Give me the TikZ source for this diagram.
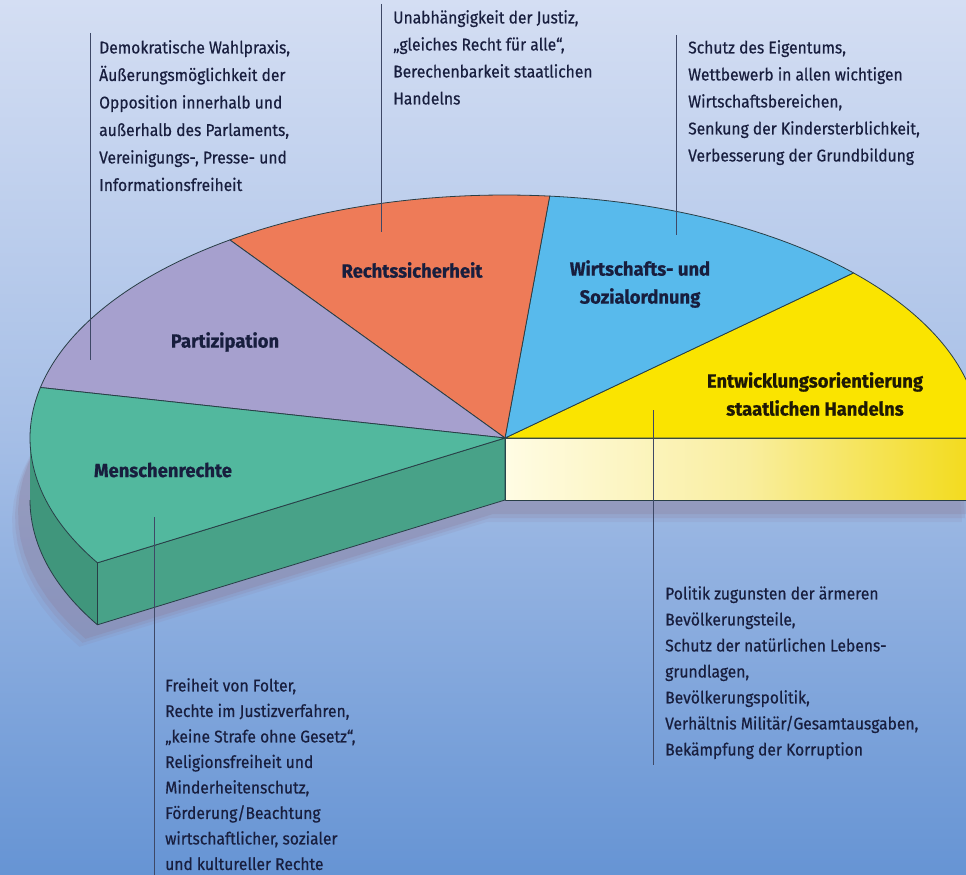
\documentclass[tikz,border=0pt]{standalone}
\usepackage{fontspec}
\setmainfont{Fira Sans}[FakeStretch=0.82]
\newfontfamily\descfont{Fira Sans}[FakeStretch=0.92, FakeBold=0.5]
\newfontfamily\labelfont{Fira Sans}[FakeStretch=0.97, BoldFeatures={FakeBold=0.7}]
\usetikzlibrary{calc}
\definecolor{bgtop}{RGB}{212,222,243}
\definecolor{bgmid}{RGB}{165,190,230}
\definecolor{bgbot}{RGB}{102,148,212}
\definecolor{cpurple}{RGB}{166,160,206}
\definecolor{corange}{RGB}{238,123,88}
\definecolor{cblue}{RGB}{88,186,236}
\definecolor{cyellow}{RGB}{250,228,0}
\definecolor{cgreen}{RGB}{82,184,158}
\definecolor{cgreenfront}{RGB}{72,162,136}
\definecolor{cgreenside}{RGB}{64,150,124}
\definecolor{cpale}{RGB}{255,252,228}
\definecolor{cpalemid}{RGB}{249,238,160}
\definecolor{cpaleend}{RGB}{242,218,20}
\definecolor{cshadow}{RGB}{140,122,150}
\definecolor{cedge}{RGB}{40,62,70}
\definecolor{ctext}{RGB}{24,30,62}
\definecolor{cleader}{RGB}{62,72,102}
\tikzset{
  edge/.style={draw=cedge, line width=0.8pt, line join=round},
  leader/.style={draw=cleader, line width=0.9pt},
  desc/.style={anchor=north west, align=left, inner sep=0pt, text=ctext},
  seglabel/.style={align=center, inner sep=0pt, text=ctext,
    font=\labelfont\fontsize{19}{28}\selectfont\bfseries},
}
\begin{document}
\begin{tikzpicture}[x=1pt,y=-1pt]
\useasboundingbox (0,0) rectangle (966,875);
\clip (0,0) rectangle (966,875);
\shade[top color=bgtop, bottom color=bgbot, middle color=bgmid] (0,0) rectangle (966,875);

% key points of the top ellipse (centre 505,438; radii 475, 243)
\coordinate (C) at (505,438);
\coordinate (Cb) at (505,500);
\coordinate (P5) at ({505+475*cos(210.9)},{438-243*sin(210.9)});
\coordinate (P5b) at ({505+475*cos(210.9)},{500-243*sin(210.9)});
\coordinate (R) at (985,438);
\coordinate (Rb) at (985,500);

% shadow
\foreach \dx/\dy/\op in {-18/22/0.12,-15/18/0.18,-12/14/0.25}{
  \fill[cshadow, opacity=\op] ({505+\dx},{500+\dy}) -- plot[domain=0:210.9, samples=60]
     ({505+\dx+475*cos(\x)},{500+\dy-243*sin(\x)}) -- cycle;
}

% front faces
\shade[left color=cpale, right color=cpaleend, middle color=cpalemid, edge] (C) rectangle (Rb);
\fill[cgreenside] plot[domain=180:210.9, samples=30] ({505+475*cos(\x)},{438-243*sin(\x)})
   -- plot[domain=210.9:180, samples=30] ({505+475*cos(\x)},{500-243*sin(\x)}) -- cycle;
\draw[edge] plot[domain=180:210.9, samples=30] ({505+475*cos(\x)},{500-243*sin(\x)});
\filldraw[fill=cgreenfront, edge] (C) -- (P5) -- (P5b) -- (Cb) -- cycle;

% top slices
\filldraw[fill=cyellow, edge] (C) -- plot[domain=0:42.8, samples=40] ({505+475*cos(\x)},{438-243*sin(\x)}) -- cycle;
\filldraw[fill=cblue, edge] (C) -- plot[domain=42.8:84.6, samples=40] ({505+475*cos(\x)},{438-243*sin(\x)}) -- cycle;
\filldraw[fill=corange, edge] (C) -- plot[domain=84.6:125.4, samples=40] ({505+475*cos(\x)},{438-243*sin(\x)}) -- cycle;
\filldraw[fill=cpurple, edge] (C) -- plot[domain=125.4:168, samples=40] ({505+475*cos(\x)},{438-243*sin(\x)}) -- cycle;
\filldraw[fill=cgreen, edge] (C) -- plot[domain=168:210.9, samples=40] ({505+475*cos(\x)},{438-243*sin(\x)}) -- cycle;

% segment labels
\node[seglabel] (lpart) at (225,342) {Partizipation};
\node[seglabel] (lrecht) at (412,270) {Rechtssicherheit};
\node[seglabel] (lmensch) at (163,470) {Menschenrechte};
\node[seglabel] (lwirt) at (640,284) {Wirtschafts- und\\Sozialordnung};
\node[seglabel, text={rgb,255:red,30;green,25;blue,5}] (lentw) at (815,394) {Entwicklungsorientierung\\staatlichen Handelns};

% descriptions
\node[desc, font=\descfont\fontsize{17}{27.5}\selectfont] (dpart) at (99,40)
  {Demokratische Wahlpraxis,\\Äußerungsmöglichkeit der\\Opposition innerhalb und\\außerhalb des Parlaments,\\Vereinigungs-, Presse- und\\Informationsfreiheit};
\node[desc, font=\descfont\fontsize{17}{27}\selectfont] (drecht) at (393,10)
  {Unabhängigkeit der Justiz,\\„gleiches Recht für alle“,\\Berechenbarkeit staatlichen\\Handelns};
\node[desc, font=\descfont\fontsize{17}{27}\selectfont] (dwirt) at (688,40)
  {Schutz des Eigentums,\\Wettbewerb in allen wichtigen\\Wirtschaftsbereichen,\\Senkung der Kindersterblichkeit,\\Verbesserung der Grundbildung};
\node[desc, font=\descfont\fontsize{17}{25.5}\selectfont] (dmensch) at (165,678)
  {Freiheit von Folter,\\Rechte im Justizverfahren,\\„keine Strafe ohne Gesetz“,\\Religionsfreiheit und\\Minderheitenschutz,\\Förderung/Beachtung\\wirtschaftlicher, sozialer\\und kultureller Rechte};
\node[desc, font=\descfont\fontsize{17}{26}\selectfont] (dentw) at (665,586)
  {Politik zugunsten der ärmeren\\Bevölkerungsteile,\\Schutz der natürlichen Lebens-\\grundlagen,\\Bevölkerungspolitik,\\Verhältnis Militär/Gesamtausgaben,\\Bekämpfung der Korruption};

% leader lines
\coordinate (a1) at (90,33);  \coordinate (b1) at (90,360);
\coordinate (a2) at (381,4);  \coordinate (b2) at (381,232);
\coordinate (a3) at (676,35); \coordinate (b3) at (676,235);
\coordinate (a4) at (154,517); \coordinate (b4) at (154,880);
\coordinate (a5) at (653,410); \coordinate (b5) at (653,765);
\draw[leader] (a1) -- (b1);
\draw[leader] (a2) -- (b2);
\draw[leader] (a3) -- (b3);
\draw[leader] (a4) -- (b4);
\draw[leader] (a5) -- (b5);
\end{tikzpicture}
\end{document}
